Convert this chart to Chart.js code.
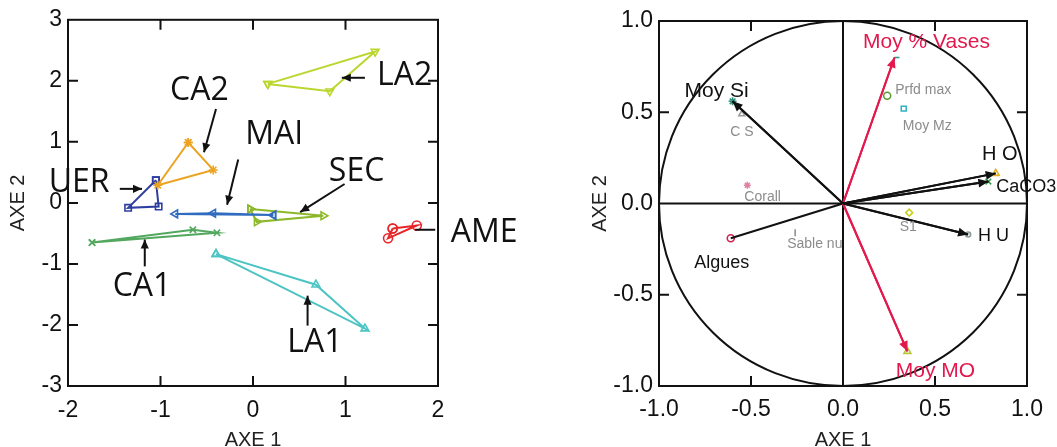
<!DOCTYPE html>
<html><head><meta charset="utf-8">
<script src="https://cdn.jsdelivr.net/npm/chart.js@4.4.1/dist/chart.umd.min.js"></script>
<style>
html,body{margin:0;padding:0;background:#fff;overflow:hidden}
#wrap{position:relative;width:1057px;height:447px;overflow:hidden}
canvas{position:absolute;top:0}
#c1{left:0}
#c2{left:528px}
</style></head><body>
<div id="wrap"><canvas id="c1" width="528" height="450"></canvas><canvas id="c2" width="529" height="450"></canvas></div>
<script>
// ---------- LEFT PANEL DATA (site scores, AXE 1 / AXE 2) ----------
const LA2_X = [0.16, 1.32, 0.83],  LA2_Y = [1.95, 2.48, 1.83];
const CA2_X = [-0.70, -0.43, -1.03], CA2_Y = [0.99, 0.54, 0.29];
const UER_X = [-1.05, -1.35, -1.02], UER_Y = [0.37, -0.08, -0.06];
const MAI_X = [0.22, -0.43, -0.84], MAI_Y = [-0.20, -0.17, -0.18];
const SEC_X = [-0.03, 0.76, 0.04], SEC_Y = [-0.10, -0.21, -0.31];
const AME_X = [1.51, 1.77, 1.46], AME_Y = [-0.42, -0.37, -0.58];
const CA1_X = [-1.74, -0.65, -0.39], CA1_Y = [-0.65, -0.44, -0.49];
const LA1_X = [-0.40, 0.68, 1.21], LA1_Y = [-0.84, -1.34, -2.06];
const leftXTicks = [-2, -1, 0, 1, 2];
const leftYTicks = [-3, -2, -1, 0, 1, 2, 3];

// group annotations (label anchor and pointer arrows, in data units)
const groupLabels = ['LA2', 'CA2', 'MAI', 'SEC', 'UER', 'AME', 'CA1', 'LA1'];
const labelX = [1.64, -0.58, 0.23, 1.12, -1.88, 2.50, -1.20, 0.67];
const labelY = [2.12, 1.88, 1.15, 0.55, 0.37, -0.45, -1.33, -2.25];
const arrowFrom = [[1.21, 2.05], [-0.40, 1.54], [-0.16, 0.71], [0.99, 0.31], [-1.44, 0.23], [1.97, -0.44], [-1.17, -1.04], [0.59, -2.01]];
const arrowTo = [[0.96, 2.05], [-0.53, 0.83], [-0.28, -0.03], [0.51, -0.15], [-1.20, 0.23], [1.75, -0.44], [-1.17, -0.60], [0.59, -1.52]];

// ---------- RIGHT PANEL DATA (correlation circle) ----------
const varNames = ['Moy % Vases', 'Moy MO', 'Moy Si', 'H O', 'CaCO3', 'H U', 'Algues'];
const varX = [0.28, 0.35, -0.60, 0.83, 0.79, 0.68, -0.61];
const varY = [0.80, -0.81, 0.56, 0.165, 0.12, -0.17, -0.19];
const suppNames = ['Prfd max', 'Moy Mz', 'C S', 'Corall', 'S1', 'Sable nu'];
const suppX = [0.24, 0.33, -0.55, -0.52, 0.36, -0.26];
const suppY = [0.59, 0.52, 0.49, 0.10, -0.05, -0.16];
const rightTicks = [-1.0, -0.5, 0.0, 0.5, 1.0];

// ---------- styles ----------
const TICK_FAMILY = "'Liberation Sans',Arial,sans-serif";
const tickFont = {family: TICK_FAMILY, size: 23};
const titleFont = {family: TICK_FAMILY, size: 20, lineHeight: 1};
const RED = '#e3184d';

function closed(xs, ys) {
  const d = xs.map((x, i) => ({x, y: ys[i]}));
  d.push({x: xs[0], y: ys[0]});
  return d;
}

function drawArrow(ctx, x1, y1, x2, y2, color, lw, head) {
  ctx.save();
  ctx.strokeStyle = color; ctx.fillStyle = color; ctx.lineWidth = lw;
  ctx.beginPath(); ctx.moveTo(x1, y1); ctx.lineTo(x2, y2); ctx.stroke();
  if (head > 0) {
    const a = Math.atan2(y2 - y1, x2 - x1);
    ctx.beginPath();
    ctx.moveTo(x2, y2);
    ctx.lineTo(x2 - head * Math.cos(a) + head * 0.45 * Math.sin(a), y2 - head * Math.sin(a) - head * 0.45 * Math.cos(a));
    ctx.lineTo(x2 - head * Math.cos(a) - head * 0.45 * Math.sin(a), y2 - head * Math.sin(a) + head * 0.45 * Math.cos(a));
    ctx.closePath(); ctx.fill();
  }
  ctx.restore();
}

function frameTicks(chart, xt, yt, len) {
  const {ctx, chartArea: a, scales: {x, y}} = chart;
  ctx.save();
  ctx.strokeStyle = '#111'; ctx.lineWidth = 2;
  ctx.strokeRect(a.left, a.top, a.right - a.left, a.bottom - a.top);
  ctx.beginPath();
  xt.forEach(v => {
    const px = x.getPixelForValue(v);
    ctx.moveTo(px, a.top); ctx.lineTo(px, a.top + len);
    ctx.moveTo(px, a.bottom); ctx.lineTo(px, a.bottom - len);
  });
  yt.forEach(v => {
    const py = y.getPixelForValue(v);
    ctx.moveTo(a.left, py); ctx.lineTo(a.left + len, py);
    ctx.moveTo(a.right, py); ctx.lineTo(a.right - len, py);
  });
  ctx.stroke();
  ctx.restore();
}

function textAtCenter(ctx, txt, cx, cy, size, align) {
  ctx.textAlign = align || 'center';
  ctx.textBaseline = 'alphabetic';
  ctx.fillText(txt, cx, cy + size * 0.36);
}

// ---------- LEFT CHART ----------
const leftSeries = [
  {x: LA2_X, y: LA2_Y, color: '#bcd62e', style: 'triangle', rot: 180},
  {x: CA2_X, y: CA2_Y, color: '#eca320', style: 'star', rot: 0},
  {x: UER_X, y: UER_Y, color: '#2f3f9f', style: 'rect', rot: 0},
  {x: MAI_X, y: MAI_Y, color: '#2f6cc0', style: 'triangle', rot: -90},
  {x: SEC_X, y: SEC_Y, color: '#8cb82a', style: 'triangle', rot: 90},
  {x: AME_X, y: AME_Y, color: '#e8262a', style: 'circle', rot: 0},
  {x: CA1_X, y: CA1_Y, color: '#52a85e', style: 'crossRot', rot: 0},
  {x: LA1_X, y: LA1_Y, color: '#4cc4c4', style: 'triangle', rot: 0}
];

const leftPlugin = {
  id: 'leftDeco',
  afterDatasetsDraw(chart) {
    frameTicks(chart, [-1, 0, 1], [-2, -1, 0, 1, 2], 10);
  },
  afterDraw(chart) {
    const {ctx, scales: {x, y}} = chart;
    ctx.save();
    ctx.fillStyle = '#111';
    ctx.font = "32px 'Open Sans'";
    groupLabels.forEach((t, i) => {
      textAtCenter(ctx, t, x.getPixelForValue(labelX[i]), y.getPixelForValue(labelY[i]), 32);
      drawArrow(ctx, x.getPixelForValue(arrowFrom[i][0]), y.getPixelForValue(arrowFrom[i][1]),
        x.getPixelForValue(arrowTo[i][0]), y.getPixelForValue(arrowTo[i][1]), '#111', 2, t === 'AME' ? 0 : 9);
    });
    ctx.restore();
  }
};

new Chart(document.getElementById('c1'), {
  type: 'scatter',
  data: {
    datasets: leftSeries.map(s => ({
      data: closed(s.x, s.y), showLine: true,
      borderColor: s.color, borderWidth: 2,
      pointStyle: s.style, rotation: s.rot, pointRadius: 4.5,
      pointBorderColor: s.color, pointBackgroundColor: 'rgba(255,255,255,0)', pointBorderWidth: 1.6
    }))
  },
  options: {
    responsive: false, animation: false, devicePixelRatio: 1,
    layout: {padding: {left: 8, top: 16, right: 90, bottom: 0}},
    plugins: {legend: {display: false}, tooltip: {enabled: false}},
    scales: {
      x: {type: 'linear', min: -2, max: 2,
        afterBuildTicks: s => { s.ticks = leftXTicks.map(v => ({value: v})); },
        ticks: {font: tickFont, color: '#111', padding: 11, maxRotation: 0, autoSkip: false, callback: v => String(v)},
        grid: {display: false, drawTicks: false}, border: {display: false},
        title: {display: true, text: 'AXE 1', font: titleFont, color: '#222', padding: 0},
        afterFit: s => { s.height = 64; }},
      y: {type: 'linear', min: -3, max: 3,
        afterBuildTicks: s => { s.ticks = leftYTicks.map(v => ({value: v})); },
        ticks: {font: tickFont, color: '#111', padding: 6, autoSkip: false, callback: v => String(v)},
        grid: {display: false, drawTicks: false}, border: {display: false},
        title: {display: true, text: 'AXE 2', font: titleFont, color: '#222', padding: 0},
        afterFit: s => { s.width = 60; }}
    }
  },
  plugins: [leftPlugin]
});

// ---------- RIGHT CHART ----------
const tipStyles = ['dash', 'triangle', 'star', 'triangle', 'crossRot', 'circle', 'circle'];
const tipColors = ['#2f9e8e', '#b8c83a', '#2f8e7e', '#e0b020', '#3a9a50', '#8a9a9a', '#d02050'];
const tipRadius = [5, 4, 4, 4, 4, 2.5, 3.5];
const vecColors = [RED, RED, '#111', '#111', '#111', '#111', '#111'];
const vecHead = [10, 10, 10, 10, 10, 10, 0];
const varFont = [21, 21, 21, 20, 18, 18, 18];
const varDx = [32, 28, -16, 4, 8, 10, -9];
const varDy = [-17, 18, -12, -21, 4, 0, 23];
const varAlign = ['center', 'center', 'center', 'center', 'left', 'left', 'center'];
const suppStyles = ['circle', 'rect', 'triangle', 'star', 'rectRot', 'line'];
const suppColors = ['#5a9a30', '#30b0c0', '#9a9a9a', '#e080a0', '#c8d020', '#8a8a8a'];
const suppRot = [0, 0, 0, 0, 0, 90];
const suppDx = [8, -1, 0, -3, -1, -8];
const suppDy = [-7, 16, 17, 11, 13, 10];
const suppAlign = ['left', 'left', 'center', 'left', 'center', 'left'];

const NV = varNames.length;

const rightPlugin = {
  id: 'rightDeco',
  beforeDatasetsDraw(chart) {
    const {ctx, chartArea: a, scales: {x, y}} = chart;
    const cx = x.getPixelForValue(0), cy = y.getPixelForValue(0);
    ctx.save();
    ctx.strokeStyle = '#111'; ctx.lineWidth = 2;
    ctx.beginPath();
    ctx.moveTo(cx, a.top); ctx.lineTo(cx, a.bottom);
    ctx.moveTo(a.left, cy); ctx.lineTo(a.right, cy);
    ctx.stroke();
    ctx.beginPath();
    ctx.ellipse(cx, cy, x.getPixelForValue(1) - cx, cy - y.getPixelForValue(1), 0, 0, Math.PI * 2);
    ctx.stroke();
    ctx.restore();
  },
  afterDatasetsDraw(chart) {
    const {ctx} = chart;
    for (let i = 0; i < NV; i++) {
      const pts = chart.getDatasetMeta(i).data;
      if (vecHead[i] > 0) drawArrow(ctx, pts[0].x, pts[0].y, pts[1].x, pts[1].y, vecColors[i], 2, vecHead[i]);
    }
    frameTicks(chart, [-0.5, 0.5], [-0.5, 0.5], 10);
  },
  afterDraw(chart) {
    const {ctx} = chart;
    ctx.save();
    const tips = chart.getDatasetMeta(NV).data;
    varNames.forEach((t, i) => {
      ctx.fillStyle = vecColors[i];
      ctx.font = varFont[i] + "px 'Liberation Sans'";
      textAtCenter(ctx, t, tips[i].x + varDx[i], tips[i].y + varDy[i], varFont[i], varAlign[i]);
    });
    const sp = chart.getDatasetMeta(NV + 1).data;
    ctx.fillStyle = '#8c8c8c';
    ctx.font = "14px 'Liberation Sans'";
    suppNames.forEach((t, i) => {
      textAtCenter(ctx, t, sp[i].x + suppDx[i], sp[i].y + suppDy[i], 14, suppAlign[i]);
    });
    ctx.restore();
  }
};

const rightDatasets = varNames.map((n, i) => ({
  data: [{x: 0, y: 0}, {x: varX[i], y: varY[i]}], showLine: true,
  borderColor: vecColors[i], borderWidth: 2, pointRadius: 0
}));
rightDatasets.push({
  data: varX.map((v, i) => ({x: v, y: varY[i]})), showLine: false,
  pointStyle: tipStyles, pointRadius: tipRadius, pointBorderColor: tipColors,
  pointBackgroundColor: 'rgba(255,255,255,0)', pointBorderWidth: 1.6
});
rightDatasets.push({
  data: suppX.map((v, i) => ({x: v, y: suppY[i]})), showLine: false,
  pointStyle: suppStyles, rotation: suppRot, pointRadius: 3.5, pointBorderColor: suppColors,
  pointBackgroundColor: 'rgba(255,255,255,0)', pointBorderWidth: 1.5
});

new Chart(document.getElementById('c2'), {
  type: 'scatter',
  data: {datasets: rightDatasets},
  options: {
    responsive: false, animation: false, devicePixelRatio: 1,
    layout: {padding: {left: 62, top: 21, right: 30, bottom: 0}},
    plugins: {legend: {display: false}, tooltip: {enabled: false}},
    scales: {
      x: {type: 'linear', min: -1, max: 1,
        afterBuildTicks: s => { s.ticks = rightTicks.map(v => ({value: v})); },
        ticks: {font: tickFont, color: '#111', padding: 10, maxRotation: 0, autoSkip: false, callback: v => Number(v).toFixed(1)},
        grid: {display: false, drawTicks: false}, border: {display: false},
        title: {display: true, text: 'AXE 1', font: titleFont, color: '#222', padding: 0},
        afterFit: s => { s.height = 64; }},
      y: {type: 'linear', min: -1, max: 1,
        afterBuildTicks: s => { s.ticks = rightTicks.map(v => ({value: v})); },
        ticks: {font: tickFont, color: '#111', padding: 6, autoSkip: false, callback: v => Number(v).toFixed(1)},
        grid: {display: false, drawTicks: false}, border: {display: false},
        title: {display: true, text: 'AXE 2', font: titleFont, color: '#222', padding: 0},
        afterFit: s => { s.width = 69; }}
    }
  },
  plugins: [rightPlugin]
});
</script>
</body></html>
